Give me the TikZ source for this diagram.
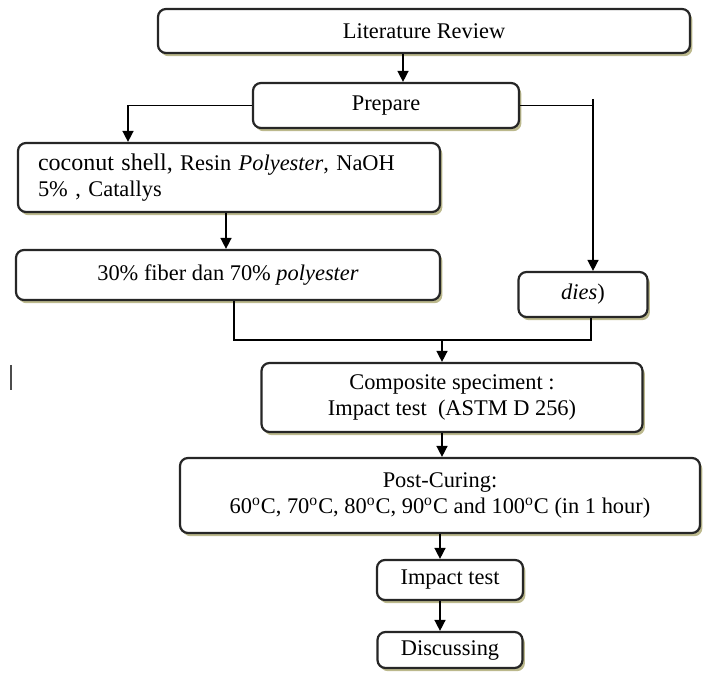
\documentclass[tikz,border=0pt]{standalone}
\usepackage{fontspec}
\setmainfont{Liberation Serif}
\usepackage{tikz}
\usetikzlibrary{arrows.meta,calc,shadows}

\tikzset{
  box/.style={draw=black!85, rounded corners=4pt, line width=1.1pt, fill=white, inner sep=0pt,
    align=center, font=\fontsize{11.2}{13}\selectfont,
    drop shadow={shadow xshift=1.2pt, shadow yshift=-1.6pt, opacity=.6, fill=olive!55!gray}},
  arr/.style={line width=0.75pt, -{Triangle[length=5.5pt,width=5.5pt]}},
  conn/.style={line width=0.75pt}
}

\begin{document}
\begin{tikzpicture}[x=0.5pt,y=-0.5pt]
\useasboundingbox (0,0) rectangle (704,672);

\node[box, minimum width=266pt, minimum height=22pt] (lit) at (424,31) {Literature Review};
\node[box, minimum width=133pt, minimum height=22.5pt] (prep) at (386,105.5) {Prepare};
\node[box, minimum width=211pt, minimum height=34.5pt, text width=191pt, align=left] (coco) at (229,177.5)
  {{\fontsize{12}{13}\selectfont coconut shell,} Resin \textit{Polyester}, NaOH\\5\% , Catallys};
\node[box, minimum width=212pt, minimum height=25pt] (fib) at (228,275) {30\% fiber dan 70\% \textit{polyester}};
\node[box, minimum width=64.5pt, minimum height=22.5pt] (dies) at (583,294.5) {\textit{dies})};
\node[box, minimum width=190.5pt, minimum height=34.5pt] (comp) at (452,397.5)
  {Composite speciment :\\Impact test\ \ (ASTM D 256)};
\node[box, minimum width=260pt, minimum height=37.5pt] (post) at (440,495.5)
  {Post-Curing:\\60\textsuperscript{o}C, 70\textsuperscript{o}C, 80\textsuperscript{o}C, 90\textsuperscript{o}C and 100\textsuperscript{o}C (in 1 hour)};
\node[box, minimum width=73pt, minimum height=20pt] (imp) at (450,580) {Impact test};
\node[box, minimum width=72.5pt, minimum height=18pt] (disc) at (450,650) {Discussing};

% guide points for the vertical runs
\coordinate (lx) at (128,0);
\coordinate (rtop) at (593,99);
\coordinate (ml) at (234,0);
\coordinate (mr) at (591,0);
\coordinate (join) at (442,340);
\coordinate (ax) at (440,0);
\coordinate (top) at (403,0);

\draw[arr] (lit.south -| top) -- (prep.north -| top);
\draw[arr] (prep.west) -| (coco.north -| lx);
\draw[conn] (prep.east) -- (prep.east -| rtop);
\draw[arr] (rtop) -- (rtop |- dies.north);
\draw[arr] (coco.south -| ml) ++(-8,0) -- ($(fib.north -| ml)+(-8,0)$);
\draw[conn] (fib.south -| ml) |- (join) -| (dies.south -| mr);
\draw[arr] (join) -- (join |- comp.north);
\draw[arr] (comp.south -| join) -- (post.north -| join);
\draw[arr] (post.south -| ax) -- (imp.north -| ax);
\draw[arr] (imp.south -| ax) -- (disc.north -| ax);

\draw[line width=1pt, black!70] (11,365) -- (11,390);

\end{tikzpicture}
\end{document}
